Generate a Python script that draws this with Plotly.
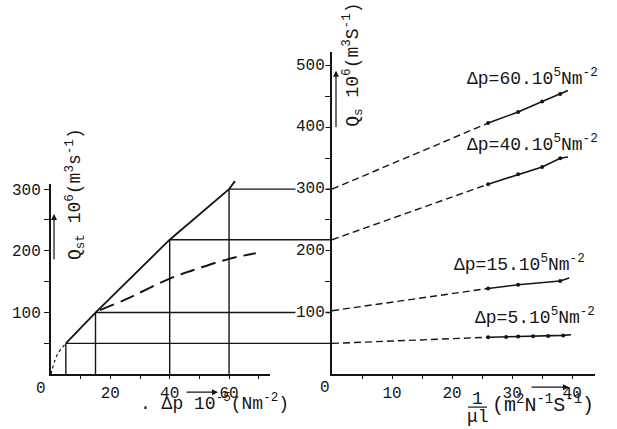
import plotly.graph_objects as go

W, H = 617, 429

# ---------------- data ----------------
# left panel : Q_st 10^6 versus dp 10^-5
dp_runs = [5, 15, 40, 60]            # the four pressure drops
qst_runs = [50, 100, 218, 300]        # Q_st at those pressure drops
solid_dp = [5, 15, 40, 60, 62]
solid_q = [50, 100, 218, 300, 313]
dotted_dp = [0, 1, 2.5, 5]
dotted_q = [0, 18, 35, 50]
dashed_dp = [16.5, 25, 40, 50, 60, 69]
dashed_q = [104, 121, 155, 172, 187, 196]

# right panel : Q_s 10^6 versus 1/(mu l)
p60_x = [26, 31, 35, 38]
p60_q = [407, 425, 442, 454]
p60_int, p60_endx, p60_endq = 300, 39.3, 460
p40_x = [26, 31, 35, 38]
p40_q = [308, 324, 336, 350]
p40_int, p40_endx, p40_endq = 218, 39.3, 352
p15_x = [26, 31, 38]
p15_q = [139, 145, 151]
p15_int, p15_endx, p15_endq = 103, 39.5, 156
p5_x = [26, 29, 31, 33.5, 36, 38.5]
p5_q = [60, 60.5, 61, 61.5, 62, 63]
p5_int, p5_endx, p5_endq = 50, 39.8, 64

right_series = [
    (p60_x, p60_q, p60_int, p60_endx, p60_endq, "\u0394p=60.10<sup>5</sup>Nm<sup>-2</sup>"),
    (p40_x, p40_q, p40_int, p40_endx, p40_endq, "\u0394p=40.10<sup>5</sup>Nm<sup>-2</sup>"),
    (p15_x, p15_q, p15_int, p15_endx, p15_endq, "\u0394p=15.10<sup>5</sup>Nm<sup>-2</sup>"),
    (p5_x, p5_q, p5_int, p5_endx, p5_endq, "\u0394p=5.10<sup>5</sup>Nm<sup>-2</sup>"),
]

left_yticks = [50, 100, 150, 200, 250, 300]
left_xticks = [10, 20, 30, 40, 50, 60, 70]
right_yticks = [50, 100, 150, 200, 250, 300, 350, 400, 450, 500]
right_xticks = [5, 10, 15, 20, 25, 30, 35, 40]

# ---------------- layout helpers ----------------
def fx(px):
    return px / W


def fy(py):
    return 1 - py / H


INK = "#151515"
FONT = "Liberation Mono"
LEFT_X_MAX, LEFT_Y_MAX = 73.8, 308
CONN_X_MAX, CONN_Y_MAX = 94.7, 538.7
RIGHT_X_MAX, RIGHT_Y_MAX = 43.8, 522.6

fig = go.Figure()

# invisible anchor trace for the left axes
fig.add_trace(go.Scatter(x=[0], y=[0], mode="markers", marker=dict(opacity=0),
                         xaxis="x", yaxis="y", hoverinfo="skip", showlegend=False))

# connector lines (vertical from axis, horizontal to the right-hand axis)
cx, cy = [], []
for d, q in zip(dp_runs, qst_runs):
    cx += [d, d, None, d, CONN_X_MAX, None]
    cy += [0, q, None, q, q, None]
fig.add_trace(go.Scatter(x=cx, y=cy, mode="lines", line=dict(color=INK, width=1.4),
                         xaxis="x3", yaxis="y3", hoverinfo="skip", showlegend=False))

fig.add_trace(go.Scatter(x=dotted_dp, y=dotted_q, mode="lines", line=dict(color=INK, width=1.2, dash="3px,3px"),
                         line_shape="spline", xaxis="x3", yaxis="y3", hoverinfo="skip", showlegend=False))
fig.add_trace(go.Scatter(x=solid_dp, y=solid_q, mode="lines", line=dict(color=INK, width=1.8),
                         xaxis="x3", yaxis="y3", hoverinfo="skip", showlegend=False))
fig.add_trace(go.Scatter(x=dashed_dp, y=dashed_q, mode="lines", line=dict(color=INK, width=2, dash="15px,7px"),
                         line_shape="spline", xaxis="x3", yaxis="y3", hoverinfo="skip", showlegend=False))

# right panel lines
for xs, qs, q0, ex, eq, _ in right_series:
    fig.add_trace(go.Scatter(x=[0, xs[0]], y=[q0, qs[0]], mode="lines",
                             line=dict(color=INK, width=1.4, dash="7px,4px"),
                             xaxis="x2", yaxis="y2", hoverinfo="skip", showlegend=False))
    fig.add_trace(go.Scatter(x=xs + [ex], y=qs + [eq], mode="lines", line=dict(color=INK, width=1.6),
                             xaxis="x2", yaxis="y2", hoverinfo="skip", showlegend=False))
    fig.add_trace(go.Scatter(x=xs, y=qs, mode="markers", marker=dict(color=INK, size=4),
                             xaxis="x2", yaxis="y2", hoverinfo="skip", showlegend=False))

tickfont = dict(family=FONT, size=16, color=INK)


def lab(vals, every):
    return [str(v) if v in every else "" for v in vals]


axis_common = dict(showgrid=False, zeroline=False, showline=True, linecolor=INK, linewidth=2,
                   tickcolor=INK, tickwidth=1.3, tickfont=tickfont, tickmode="array")

fig.update_layout(
    width=W, height=H, margin=dict(l=0, r=0, t=0, b=0),
    paper_bgcolor="white", plot_bgcolor="rgba(0,0,0,0)",
    showlegend=False,
    xaxis=dict(domain=[fx(51), fx(270)], range=[0, LEFT_X_MAX], anchor="y",
               tickvals=left_xticks, ticktext=lab(left_xticks, [20, 40, 60]),
               ticks="outside", ticklen=3, **axis_common),
    yaxis=dict(domain=[fy(374), fy(183)], range=[0, LEFT_Y_MAX], anchor="x",
               tickvals=left_yticks, ticktext=lab(left_yticks, [100, 200, 300]),
               ticks="outside", ticklen=5, **axis_common),
    xaxis2=dict(domain=[fx(332), fx(595)], range=[0, RIGHT_X_MAX], anchor="y2",
                tickvals=right_xticks, ticktext=lab(right_xticks, [10, 20, 30, 40]),
                ticks="outside", ticklen=3, **axis_common),
    yaxis2=dict(domain=[fy(374), fy(50)], range=[0, RIGHT_Y_MAX], anchor="x2",
                tickvals=right_yticks, ticktext=["" for _ in right_yticks],
                ticks="outside", ticklen=5, **axis_common),
    xaxis3=dict(domain=[fx(51), fx(332)], range=[0, CONN_X_MAX], anchor="y3", visible=False),
    yaxis3=dict(domain=[fy(374), fy(40)], range=[0, CONN_Y_MAX], anchor="x3", visible=False),
)

ann = []


def note(text, px, py, font, xa="center", ya="middle", **kw):
    return dict(text=text, xref="paper", yref="paper", x=fx(px), y=fy(py), xanchor=xa,
                yanchor=ya, showarrow=False, font=font, **kw)


# right y tick labels (white backed so the connector lines stop short of them)
for v in [100, 200, 300, 400, 500]:
    ann.append(dict(text=str(v), xref="paper", x=fx(332), xanchor="right", xshift=-6,
                    yref="y2", y=v, yanchor="middle", showarrow=False, bgcolor="white",
                    borderpad=0, font=tickfont))
# zero labels at the corners
ann.append(note("0", 41, 389, tickfont))
ann.append(note("0", 325, 388, tickfont))

labfont = dict(family=FONT, size=18, color=INK)
label_pos = [(465, 76), (465, 142), (452, 263), (473, 316)]
for (px, py), s in zip(label_pos, right_series):
    ann.append(note(s[5], px, py, labfont, xa="left"))

# axis titles
ann.append(note("Q<sub>s</sub> 10<sup>6</sup>(m<sup>3</sup>S<sup>-1</sup>)", 353, 63, labfont, textangle=-90))
ann.append(note("Q<sub>st</sub> 10<sup>6</sup>(m<sup>3</sup>s<sup>-1</sup>)", 75, 193, labfont, textangle=-90))
ann.append(note(". \u0394p 10<sup>-5</sup>(Nm<sup>-2</sup>)", 214, 402, labfont))
ann.append(note("(m<sup>2</sup>N<sup>-1</sup>S<sup>-1</sup>)", 490, 404, dict(family=FONT, size=20, color=INK), xa="left"))
fracfont = dict(family=FONT, size=18, color=INK)
ann.append(note("1", 477, 399, fracfont))
ann.append(note("\u03bcl", 478, 417, fracfont))

# arrows
for hx, hy, ax, ay in [(54, 213, 0, 47), (336, 69, 0, 58), (218, 392, -33, 0), (569, 387, -39, 0)]:
    ann.append(dict(text="", xref="paper", yref="paper", x=fx(hx), y=fy(hy), ax=ax, ay=ay,
                    showarrow=True, arrowhead=2, arrowsize=1, arrowwidth=1.2, arrowcolor=INK))

fig.update_layout(annotations=ann)
fig.add_shape(type="line", xref="paper", yref="paper", x0=fx(468), x1=fx(487), y0=fy(407), y1=fy(407),
              line=dict(color=INK, width=1.2))

fig.write_html("out.html")
